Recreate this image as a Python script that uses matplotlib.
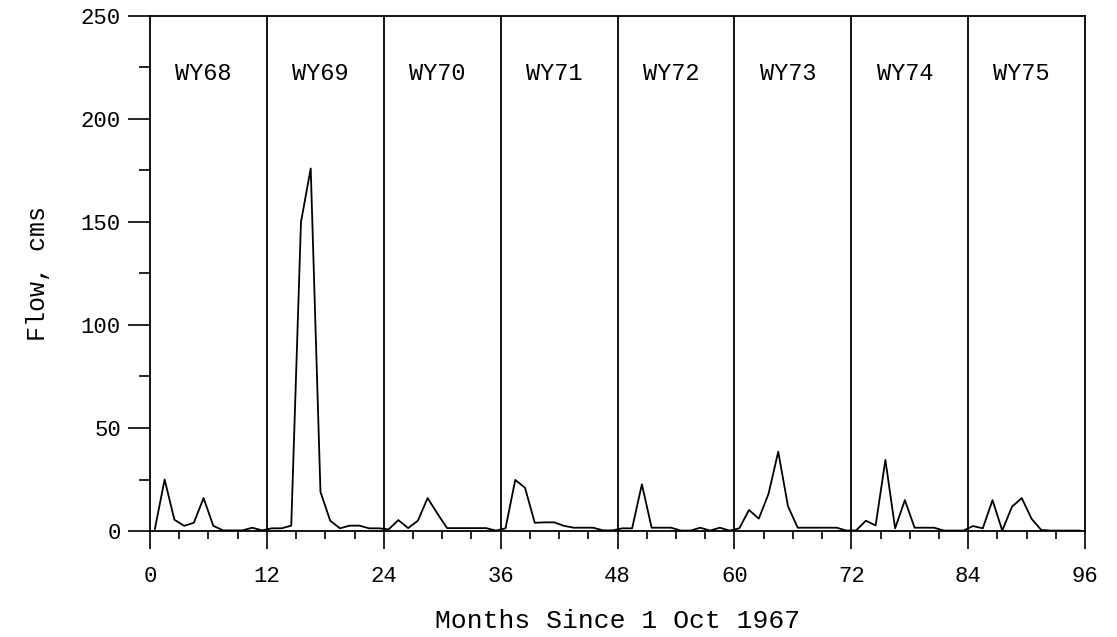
import numpy as np
import matplotlib.pyplot as plt

# monthly flow, one list per water year (Oct-Sep)
wy68 = [1.0, 25.0, 5.5, 2.5, 4.0, 16.0, 2.5, 0.3, 0.3, 0.3, 1.6, 0.3]
wy69 = [1.3, 1.3, 2.6, 150.0, 176.0, 19.0, 5.0, 1.3, 2.6, 2.6, 1.3, 1.3]
wy70 = [0.8, 5.3, 1.4, 5.0, 16.0, 8.5, 1.4, 1.4, 1.4, 1.4, 1.4, 0.2]
wy71 = [1.3, 24.8, 21.0, 4.0, 4.2, 4.2, 2.5, 1.6, 1.6, 1.6, 0.3, 0.3]
wy72 = [1.3, 1.3, 22.7, 1.6, 1.6, 1.6, 0.2, 0.2, 1.6, 0.2, 1.6, 0.2]
wy73 = [1.3, 10.2, 6.0, 18.0, 38.5, 12.0, 1.6, 1.6, 1.6, 1.6, 1.6, 0.2]
wy74 = [0.3, 5.0, 2.7, 34.5, 1.3, 15.0, 1.6, 1.6, 1.6, 0.2, 0.2, 0.2]
wy75 = [2.4, 1.3, 15.0, 0.2, 11.8, 16.0, 6.0, 0.5, 0.2, 0.2, 0.2, 0.2]
year_labels = ["WY68", "WY69", "WY70", "WY71", "WY72", "WY73", "WY74", "WY75"]

flow = wy68 + wy69 + wy70 + wy71 + wy72 + wy73 + wy74 + wy75
months = np.arange(len(flow)) + 0.5

plt.rcParams['font.family'] = ['Liberation Mono', 'DejaVu Sans Mono']

fig = plt.figure(figsize=(11.17, 6.37), dpi=100)
ax = fig.add_axes([0.1343, 0.1664, 0.8371, 0.8085])

ax.plot(months, flow, color='black', lw=1.3)

for i in range(1, 8):
    ax.axvline(12 * i, color='black', lw=1.3)
for i, lab in enumerate(year_labels):
    ax.text(12 * i + 5.5, 222, lab, ha='center', va='center', fontsize=17)

ax.set_xlim(0, 96)
ax.set_ylim(0, 250)
ax.set_xticks(range(0, 97, 12))
ax.set_xticks(range(0, 97, 3), minor=True)
ax.set_yticks(range(0, 251, 50))
ax.set_yticks(range(0, 251, 25), minor=True)
ax.tick_params(axis='x', which='major', length=13, width=1.2, pad=12, labelsize=16)
ax.tick_params(axis='x', which='minor', length=6, width=1.2)
ax.tick_params(axis='y', which='major', length=16, width=1.2, pad=5, labelsize=16)
ax.tick_params(axis='y', which='minor', length=8, width=1.2)
for s in ax.spines.values():
    s.set_linewidth(1.3)

ax.set_xlabel("Months Since 1 Oct 1967", fontsize=19, labelpad=16)
ax.set_ylabel("Flow, cms", fontsize=18, labelpad=22)

fig.savefig("out.png", dpi=100)
